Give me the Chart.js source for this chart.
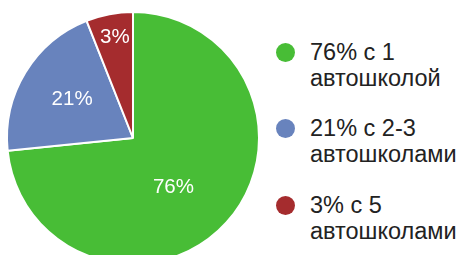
<!DOCTYPE html>
<html>
<head>
<meta charset="utf-8">
<script src="https://cdn.jsdelivr.net/npm/chart.js@4/dist/chart.umd.min.js"></script>
<style>
  html, body { margin: 0; padding: 0; width: 460px; height: 255px; overflow: hidden; background: #fff; }
  #wrap { position: relative; width: 460px; height: 255px; }
  #pie { position: absolute; left: 0; top: 0; }
  .legend { position: absolute; left: 0; top: 0; font-family: "Liberation Sans", Arial, sans-serif; font-size: 23.5px; color: #222; }
  .item { position: absolute; left: 276px; width: 184px; }
  .dot { position: absolute; left: 0; width: 19px; height: 19px; border-radius: 50%; }
  .txt { position: absolute; left: 34px; top: 0; line-height: 26px; white-space: nowrap; }
</style>
</head>
<body>
<div id="wrap">
  <canvas id="pie" width="270" height="275"></canvas>
  <div class="legend" id="legend"></div>
</div>
<script>
// slice sizes as drawn, shares printed on the chart, legend lines
const shares = [73.4, 20.6, 6.0];
const shareLabels = ["76%", "21%", "3%"];
const legendLines = [
  ["76% с 1", "автошколой"],
  ["21% с 2-3", "автошколами"],
  ["3% с 5", "автошколами"]
];
const colors = ["#48bd36", "#6883bd", "#a52c2e"];

// where the labels sit inside each slice (fraction of angle, fraction of radius)
const labelPos = [
  { a: 0.53, r: 0.5 },
  { a: 0.52, r: 0.575 },
  { a: 0.53, r: 0.82 }
];

const sliceLabels = {
  id: "sliceLabels",
  afterDatasetsDraw(chart) {
    const ctx = chart.ctx;
    const arcs = chart.getDatasetMeta(0).data;
    ctx.save();
    ctx.fillStyle = "#fff";
    ctx.font = '20.5px "Liberation Sans", Arial, sans-serif';
    ctx.textAlign = "center";
    ctx.textBaseline = "middle";
    arcs.forEach((arc, i) => {
      const p = arc.getProps(["x", "y", "startAngle", "endAngle", "outerRadius"], true);
      const ang = p.startAngle + (p.endAngle - p.startAngle) * labelPos[i].a;
      const r = p.outerRadius * labelPos[i].r;
      ctx.fillText(shareLabels[i], p.x + Math.cos(ang) * r, p.y + Math.sin(ang) * r + 1);
    });
    ctx.restore();
  }
};

new Chart(document.getElementById("pie"), {
  type: "pie",
  data: {
    labels: legendLines.map(l => l.join(" ")),
    datasets: [{
      data: shares,
      backgroundColor: colors,
      borderColor: "#fff",
      borderWidth: 2
    }]
  },
  options: {
    responsive: false,
    animation: false,
    layout: { padding: { left: 6, top: 11, right: 10, bottom: 10 } },
    plugins: { legend: { display: false }, tooltip: { enabled: false } }
  },
  plugins: [sliceLabels]
});

// legend on the right
const legendEl = document.getElementById("legend");
const itemTops = [39, 115, 192];
legendLines.forEach((lines, i) => {
  const item = document.createElement("div");
  item.className = "item";
  item.style.top = itemTops[i] + "px";
  item.innerHTML = `
    <span class="dot" style="background:${colors[i]};top:4px"></span>
    <div class="txt">${lines.join("<br>")}</div>
  `;
  legendEl.appendChild(item);
});
</script>
</body>
</html>
